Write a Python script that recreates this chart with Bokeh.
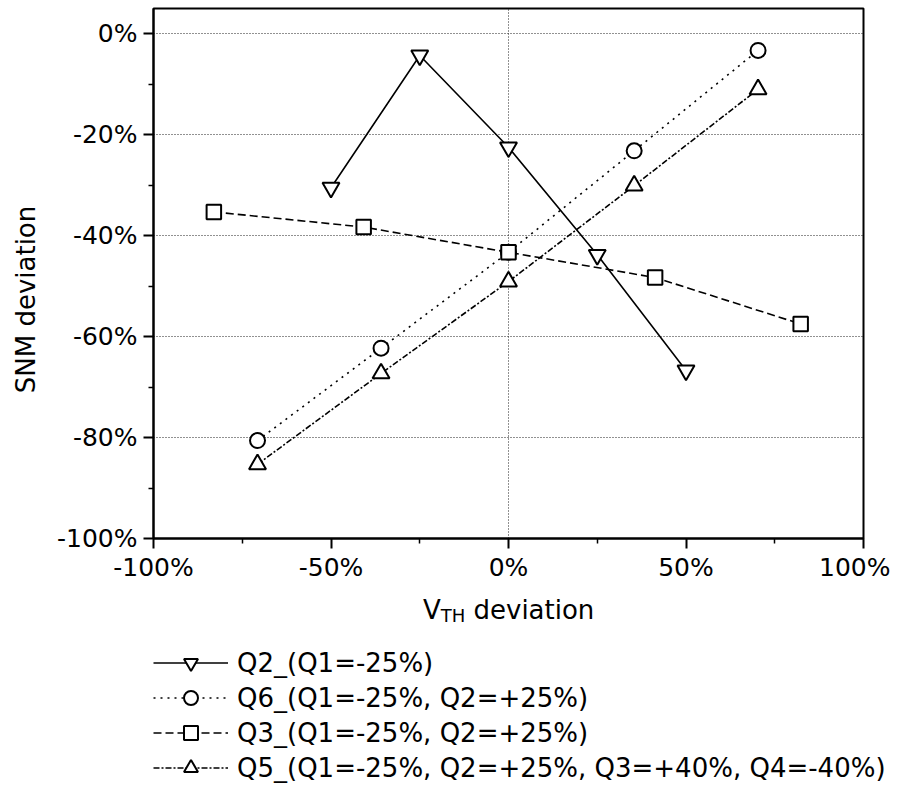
import math
from bokeh.plotting import figure
from bokeh.layouts import column, row
from bokeh.models import (FixedTicker, PrintfTickFormatter, Legend, LegendItem, Label)
from bokeh.embed import file_html
from bokeh.resources import INLINE

# ---- data ----
q2_x = [-50, -25, 0, 25, 50]
q2_y = [-30.5, -4.3, -22.5, -43.8, -66.7]

q6_x = [-70.7, -35.9, 0, 35.4, 70.3]
q6_y = [-80.6, -62.3, -43.3, -23.2, -3.3]

q3_x = [-83, -40.8, 0, 41.3, 82.3]
q3_y = [-35.3, -38.3, -43.3, -48.3, -57.5]

q5_x = [-70.7, -35.9, 0, 35.4, 70.3]
q5_y = [-85.3, -67.3, -49.1, -30.1, -11.0]

labels = ["Q2_(Q1=-25%)",
          "Q6_(Q1=-25%, Q2=+25%)",
          "Q3_(Q1=-25%, Q2=+25%)",
          "Q5_(Q1=-25%, Q2=+25%, Q3=+40%, Q4=-40%)"]

x_ticks = [-100, -50, 0, 50, 100]
x_minor = [-75, -25, 25, 75]
y_ticks = [-100, -80, -60, -40, -20, 0]
y_minor = [-90, -70, -50, -30, -10]

FONT = "DejaVu Sans"
W0 = 40                 # width of the left strip holding the y title
W = 890 - W0            # width of main + lower panels
FRAME_LEFT = 153        # page x of the plot frame
H1 = 8 + 530 + 44
H2 = 201
HT = H1 + H2

def blank_panel(width, height, xr, yr):
    f = figure(width=width, height=height, x_range=xr, y_range=yr,
               x_axis_type=None, y_axis_type=None,
               min_border_left=0, min_border_right=0, min_border_top=0, min_border_bottom=0,
               output_backend="svg", toolbar_location=None)
    f.frame_align = False
    f.outline_line_color = None
    f.grid.visible = False
    f.background_fill_color = "white"
    f.border_fill_color = "white"
    return f

# ---- main plot ----
p = figure(frame_width=710, frame_height=530,
           x_range=(-100, 100), y_range=(-100, 5),
           min_border_left=FRAME_LEFT - W0, min_border_right=W - (FRAME_LEFT - W0) - 710,
           min_border_top=8, min_border_bottom=44,
           output_backend="svg", toolbar_location=None)
p.frame_align = False
p.background_fill_color = "white"
p.border_fill_color = "white"
p.outline_line_color = "black"
p.outline_line_width = 2

for ax in (p.xaxis[0], p.yaxis[0]):
    ax.axis_line_width = 2
    ax.axis_line_color = "black"
    ax.major_tick_line_width = 2
    ax.minor_tick_line_width = 1.5
    ax.major_tick_in = 0
    ax.minor_tick_in = 0
    ax.major_tick_out = 10
    ax.minor_tick_out = 5
    ax.major_label_text_font = FONT
    ax.major_label_text_font_size = "25px"
    ax.major_label_text_color = "black"
    ax.formatter = PrintfTickFormatter(format="%d%%")
p.xaxis[0].ticker = FixedTicker(ticks=x_ticks, minor_ticks=x_minor)
p.yaxis[0].ticker = FixedTicker(ticks=y_ticks, minor_ticks=y_minor)
p.xaxis[0].major_label_standoff = 4
p.yaxis[0].major_label_standoff = 6

p.xgrid[0].ticker = FixedTicker(ticks=[0])
p.ygrid[0].ticker = FixedTicker(ticks=[-80, -60, -40, -20, 0])
for g in (p.xgrid[0], p.ygrid[0]):
    g.grid_line_color = "#222222"
    g.grid_line_dash = "1 2"
    g.grid_line_width = 1

LW = 1.6
MLW = 2
styles = [
    dict(dash="solid", marker="inverted_triangle", size=17),
    dict(dash="2 5", marker="circle", size=15),
    dict(dash="8 4", marker="square", size=14.5),
    dict(dash="6 2 2 2", marker="triangle", size=17),
]
series = [(q2_x, q2_y), (q6_x, q6_y), (q3_x, q3_y), (q5_x, q5_y)]

for (xs, ys), st in zip(series, styles):
    p.line(xs, ys, line_color="black", line_width=LW, line_dash=st["dash"])
    p.scatter(xs, ys, marker=st["marker"], size=st["size"],
              fill_color="white", line_color="black", line_width=MLW)

# ---- left strip: y axis title ----
p0 = blank_panel(W0, HT, (0, 1), (0, 1))
p0.add_layout(Label(x=25, y=HT - 299, x_units="screen", y_units="screen",
                    text="SNM deviation", angle=math.pi / 2,
                    text_align="center", text_baseline="middle",
                    text_font=FONT, text_font_size="26px", text_color="black"))

# ---- lower panel: x axis title and legend ----
p2 = blank_panel(W, H2, (1000, 1000 + W), (1000, 1000 + H2))

items = []
for (xs, ys), lab, st in zip(series, labels, styles):
    # legend swatches (data lie outside this panel's visible range)
    rl = p2.line(xs, ys, line_color="black", line_width=LW, line_dash=st["dash"])
    rm = p2.scatter(xs, ys, marker=st["marker"], size=st["size"],
                    fill_color="white", line_color="black", line_width=MLW)
    items.append(LegendItem(label=lab, renderers=[rl, rm]))

legend = Legend(items=items, location=(153 - W0, 0), orientation="vertical",
                glyph_width=75, glyph_height=35, label_height=35, spacing=0,
                padding=0, margin=0, label_standoff=9,
                label_text_font=FONT, label_text_font_size="26px",
                label_text_color="black",
                border_line_alpha=0, background_fill_alpha=0)
p2.add_layout(legend, "center")

def sy(page_y):
    return HT - page_y

p2.add_layout(Label(x=422.5 - W0, y=sy(607), x_units="screen", y_units="screen",
                    text="V", text_align="left", text_baseline="alphabetic",
                    text_font=FONT, text_font_size="26px", text_color="black"))
p2.add_layout(Label(x=440.3 - W0, y=sy(613), x_units="screen", y_units="screen",
                    text="TH", text_align="left", text_baseline="alphabetic",
                    text_font=FONT, text_font_size="18px", text_color="black"))
p2.add_layout(Label(x=473 - W0, y=sy(607), x_units="screen", y_units="screen",
                    text="deviation", text_align="left", text_baseline="alphabetic",
                    text_font=FONT, text_font_size="26px", text_color="black"))

layout = row(p0, column(p, p2, spacing=0), spacing=0)
open("out.html", "w").write(file_html(layout, INLINE))
